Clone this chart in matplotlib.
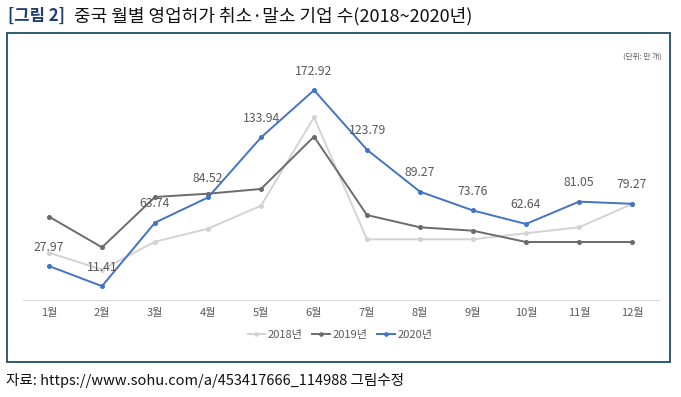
import matplotlib.pyplot as plt
from matplotlib.patches import Rectangle

plt.rcParams['font.family'] = ['Noto Sans CJK KR', 'DejaVu Sans']

months = ['1월', '2월', '3월', '4월', '5월', '6월', '7월', '8월', '9월', '10월', '11월', '12월']
y2018 = [39.0, 25.0, 48.0, 58.8, 77.7, 150.5, 50.0, 50.0, 50.0, 55.0, 59.9, 79.1]
y2019 = [68.7, 43.4, 84.9, 87.6, 91.5, 134.6, 70.0, 59.9, 57.1, 47.8, 47.8, 47.8]
y2020 = [27.97, 11.41, 63.74, 84.52, 133.94, 172.92, 123.79, 89.27, 73.76, 62.64, 81.05, 79.27]

W, H = 681, 397
fig = plt.figure(figsize=(W / 100, H / 100), dpi=100)

# frame around the chart
fig.patches.append(Rectangle((7 / W, 1 - 362 / H), 663 / W, 329 / H, transform=fig.transFigure,
                             fill=False, edgecolor='#1f4e66', linewidth=1.3))

ax = fig.add_axes([22.5 / W, (H - 300) / H, 636 / W, 242.7 / H])
x = range(len(months))
ax.plot(x, y2018, color='#d3d3d3', lw=1.4, marker='o', ms=2.6, label='2018년')
ax.plot(x, y2019, color='#6b6b6b', lw=1.4, marker='o', ms=2.6, label='2019년')
ax.plot(x, y2020, color='#4472c4', lw=1.4, marker='o', ms=2.6, label='2020년')

for i, v in enumerate(y2020):
    ax.annotate(f'{v:.2f}', (i, v), xytext=(0, 9), textcoords='offset points',
                ha='center', va='bottom', fontsize=8.8, color='#595959')

ax.set_xlim(-0.5, 11.5)
ax.set_ylim(0, 200)
ax.set_xticks(list(x))
ax.set_xticklabels(months, fontsize=8, color='#595959')
ax.tick_params(axis='x', length=0, pad=6)
ax.set_yticks([])
for s in ['top', 'right', 'left']:
    ax.spines[s].set_visible(False)
ax.spines['bottom'].set_color('#d9d9d9')
ax.set_facecolor('none')

fig.legend(loc='center', bbox_to_anchor=(340 / W, 1 - 335 / H), ncol=3, frameon=False,
           fontsize=8, labelcolor='#595959', handlelength=1.6, handletextpad=0.2,
           columnspacing=0.9, markerscale=0.9)

fig.text(662 / W, 1 - 57 / H, '(단위: 만 개)', ha='right', va='center', fontsize=5.5, color='#595959')

fig.text(8 / W, 1 - 16 / H, '[그림 2]', ha='left', va='center', fontsize=12,
         color='#1f3f73', fontweight='bold')
fig.text(74 / W, 1 - 16 / H, '중국 월별 영업허가 취소·말소 기업 수(2018~2020년)', ha='left', va='center',
         fontsize=13, color='#111111')
fig.text(6 / W, 1 - 380 / H, '자료: https://www.sohu.com/a/453417666_114988 그림수정', ha='left',
         va='center', fontsize=10.5, color='#111111')

fig.savefig('out.png', dpi=100)
